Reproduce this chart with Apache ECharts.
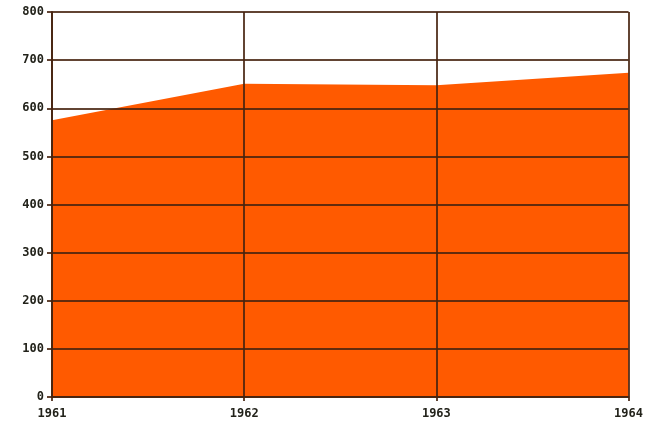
<!DOCTYPE html>
<html><head><meta charset="utf-8">
<script src="https://cdn.jsdelivr.net/npm/echarts@6/dist/echarts.min.js"></script>
<style>html,body{margin:0;padding:0;background:#fff}#c{width:646px;height:425px}</style>
</head><body><div id="c"></div>
<script>
const years = ['1961', '1962', '1963', '1964'];
const values = [575, 651, 648, 674];
const yTicks = [0, 100, 200, 300, 400, 500, 600, 700, 800];

const chart = echarts.init(document.getElementById('c'));
const lineCol = 'rgba(70,35,15,0.85)';
const labelStyle = {color: '#22221a', fontFamily: 'DejaVu Sans Mono', fontWeight: 'bold', fontSize: 12};
chart.setOption({
  backgroundColor: '#fff',
  animation: false,
  grid: {left: 52, right: 13, top: 12, bottom: 28},
  xAxis: {
    type: 'category', data: years, boundaryGap: false, z: 5,
    axisLine: {lineStyle: {color: lineCol, width: 2}},
    axisTick: {show: true, length: 4, lineStyle: {color: lineCol, width: 2}},
    axisLabel: Object.assign({margin: 11}, labelStyle),
    splitLine: {show: true, lineStyle: {color: lineCol, width: 2}}
  },
  yAxis: {
    type: 'value', min: yTicks[0], max: yTicks[yTicks.length - 1], interval: 100, z: 5,
    axisLine: {show: true, lineStyle: {color: lineCol, width: 2}},
    axisTick: {show: true, length: 5, lineStyle: {color: lineCol, width: 2}},
    axisLabel: Object.assign({margin: 8}, labelStyle),
    splitLine: {show: true, lineStyle: {color: lineCol, width: 2}}
  },
  series: [{
    type: 'line', data: values, symbol: 'none', z: 2,
    lineStyle: {width: 0},
    areaStyle: {color: '#ff5a00', opacity: 1}
  }]
});
</script></body></html>
